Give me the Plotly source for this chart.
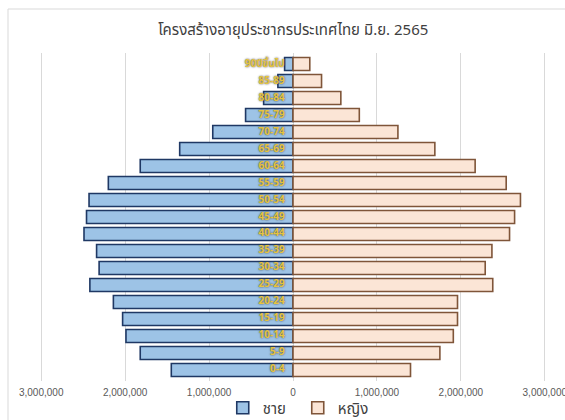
import plotly.graph_objects as go

age_groups = ["0-4", "5-9", "10-14", "15-19", "20-24", "25-29", "30-34", "35-39",
              "40-44", "45-49", "50-54", "55-59", "60-64", "65-69", "70-74", "75-79",
              "80-84", "85-89", "90ปีขึ้นไป"]
male = [1450000, 1820000, 1990000, 2030000, 2140000, 2420000, 2310000, 2340000,
        2490000, 2460000, 2430000, 2200000, 1820000, 1350000, 956000, 565000,
        350000, 180000, 100000]
female = [1400000, 1750000, 1910000, 1960000, 1960000, 2380000, 2290000, 2370000,
          2580000, 2640000, 2710000, 2540000, 2170000, 1690000, 1250000, 790000,
          570000, 340000, 200000]
tick_vals = [-3000000, -2000000, -1000000, 0, 1000000, 2000000, 3000000]
tick_text = ["3,000,000", "2,000,000", "1,000,000", "0", "1,000,000", "2,000,000", "3,000,000"]

thai_font = "Noto Sans Thai, Tahoma, Leelawadee UI, sans-serif"

fig = go.Figure()
fig.add_trace(go.Bar(
    y=age_groups, x=[-v for v in male], orientation="h", name="ชาย",
    marker=dict(color="#9DC3E6", line=dict(color="#1F3864", width=1.6)),
))
fig.add_trace(go.Bar(
    y=age_groups, x=female, orientation="h", name="หญิง",
    marker=dict(color="#FBE5D6", line=dict(color="#7F5539", width=1.6)),
))
fig.add_trace(go.Scatter(
    y=age_groups, x=[-100000] * len(age_groups), mode="text", text=age_groups,
    textposition="middle left", showlegend=False, hoverinfo="skip",
    textfont=dict(family=thai_font, size=10, color="#E6C440",
                  weight="bold", shadow="0px 0px 2px #3a3a3a"),
))

fig.update_layout(
    width=565, height=420,
    margin=dict(l=37, r=16, t=53, b=39, autoexpand=False),
    paper_bgcolor="white", plot_bgcolor="white",
    barmode="overlay", bargap=0.235,
    title=dict(text="โครงสร้างอายุประชากรประเทศไทย มิ.ย. 2565",
               x=0.519, xanchor="center", y=1 - 30 / 420, yanchor="middle",
               font=dict(family=thai_font, size=15, color="#404040")),
    xaxis=dict(range=[-3050000, 3050000], tickvals=tick_vals, ticktext=tick_text,
               showgrid=True, gridcolor="#D9D9D9", gridwidth=1, zeroline=False,
               showline=False, ticks="", ticklabelstandoff=4, automargin=False,
               ticklabeloverflow="allow",
               tickfont=dict(family="Liberation Sans, Arial", size=10, color="#595959")),
    yaxis=dict(range=[-0.65, 18.65], showticklabels=False, showgrid=False,
               zeroline=False, showline=False, ticks="", automargin=False),
    legend=dict(orientation="h", xref="container", yref="container",
                x=0.527, xanchor="center", y=1 - 408 / 420, yanchor="middle",
                entrywidth=30, entrywidthmode="pixels", itemwidth=30,
                font=dict(family=thai_font, size=15, color="#404040"),
                bgcolor="rgba(0,0,0,0)"),
    shapes=[dict(type="rect", xref="paper", yref="paper",
                 x0=(8 - 37) / 512, x1=1.06, y0=-0.2, y1=(381 - 9) / 328,
                 line=dict(color="#D9D9D9", width=1), fillcolor="rgba(0,0,0,0)",
                 layer="above")],
)

fig.write_html("out.html", config={"displayModeBar": False},
               post_script="document.body.style.margin='0';document.body.style.padding='0';")
